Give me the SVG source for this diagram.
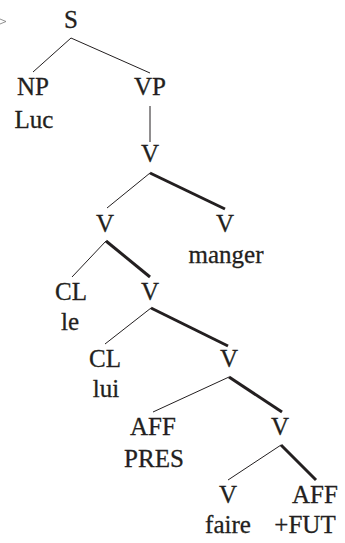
<svg xmlns="http://www.w3.org/2000/svg" width="345" height="543" viewBox="0 0 345 543">
<style>
.t{font-family:'Liberation Serif','DejaVu Serif',serif;font-size:25px;fill:#231f20;stroke:#231f20;stroke-width:0.3;text-anchor:middle}
.thin{stroke:#231f20;stroke-width:1;fill:none}
.thick{stroke:#231f20;stroke-width:3;fill:none}
</style>
<rect width="345" height="543" fill="#fff"/>
<polyline points="0,19 6,21.5 0,24" fill="none" stroke="#777" stroke-width="0.8"/>
<g id="connectors">
<line class="thin" x1="71" y1="38" x2="33" y2="72"/>
<line class="thin" x1="71" y1="38" x2="150" y2="73"/>
<line class="thin" x1="150" y1="106" x2="150" y2="142"/>
<line class="thin" x1="150" y1="173" x2="107" y2="208"/>
<line class="thick" x1="150" y1="173" x2="225" y2="209"/>
<line class="thin" x1="106" y1="241" x2="72" y2="277"/>
<line class="thick" x1="106" y1="241" x2="150" y2="277"/>
<line class="thin" x1="151" y1="308" x2="105" y2="344"/>
<line class="thick" x1="151" y1="308" x2="228" y2="346"/>
<line class="thin" x1="229" y1="377" x2="153" y2="412"/>
<line class="thick" x1="229" y1="377" x2="282" y2="412"/>
<line class="thin" x1="281" y1="445" x2="228" y2="480"/>
<line class="thick" x1="281" y1="445" x2="316" y2="480"/>
</g>
<g id="S"><text class="t" x="71" y="28">S</text></g>
<g id="NP"><text class="t" x="33" y="95">NP</text><text class="t" x="34" y="128">Luc</text></g>
<g id="VP"><text class="t" x="150" y="95">VP</text></g>
<g id="V1"><text class="t" x="150" y="162">V</text></g>
<g id="V2"><text class="t" x="105" y="232">V</text></g>
<g id="V3"><text class="t" x="225" y="232">V</text><text class="t" x="226" y="263">manger</text></g>
<g id="CL1"><text class="t" x="71" y="300">CL</text><text class="t" x="70" y="330">le</text></g>
<g id="V4"><text class="t" x="150" y="300">V</text></g>
<g id="CL2"><text class="t" x="105" y="367">CL</text><text class="t" x="106" y="397">lui</text></g>
<g id="V5"><text class="t" x="229" y="367">V</text></g>
<g id="AFF1"><text class="t" x="153" y="435">AFF</text><text class="t" x="154" y="467">PRES</text></g>
<g id="V6"><text class="t" x="280" y="435">V</text></g>
<g id="V7"><text class="t" x="228" y="503">V</text><text class="t" x="228" y="533">faire</text></g>
<g id="AFF2"><text class="t" x="315" y="503">AFF</text><text class="t" x="305" y="533">+FUT</text></g>
</svg>
